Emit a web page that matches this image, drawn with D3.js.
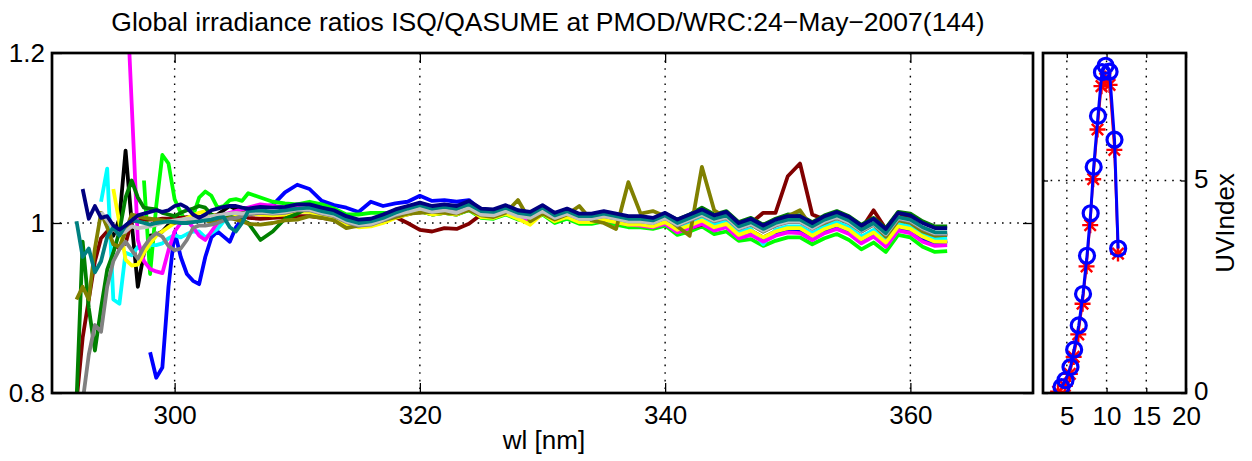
<!DOCTYPE html>
<html lang="en">
<head>
<meta charset="UTF-8">
<title>Global irradiance ratios ISQ/QASUME</title>
<script src="https://d3js.org/d3.v7.min.js"></script>
<style>
  body { margin: 0; background: #fff; }
  svg { display: block; font-family: "Liberation Sans", Arial, sans-serif; }
  .axis text { font-size: 26px; fill: #000; font-family: "Liberation Sans", Arial, sans-serif; }
  .axis line { stroke: #000; stroke-width: 1.3; }
  .grid { stroke: #000; stroke-width: 1.4; stroke-dasharray: 1.6 6; fill: none; }
  .frame { fill: none; stroke: #000; stroke-width: 2.7; }
</style>
</head>
<body>
<svg id="chart" width="1252" height="461"></svg>
<script>
// wavelength grid [nm]
const wl = [292, 292.5, 293, 293.5, 294, 294.5, 295, 295.5, 296, 296.5, 297, 297.5, 298, 298.5,
  299, 299.5, 300, 300.5, 301, 301.5, 302, 302.5, 303, 303.5, 304, 304.5, 305, 305.5, 306,
  307, 308, 309, 310, 311, 312, 313, 314, 315, 316, 317, 318, 319, 320, 321, 322, 323, 324,
  325, 326, 327, 328, 329, 330, 331, 332, 333, 334, 335, 336, 337, 338, 339, 340, 341, 342,
  343, 344, 345, 346, 347, 348, 349, 350, 351, 352, 353, 354, 355, 356, 357, 358, 359, 360,
  361, 362, 363];

// ISQ/QASUME ratio, one array per scan (null = no data)
const ratioBlue = [null, null, null, null, null, null, null, null, null, null, null, null,
  0.848, 0.818, 0.83, 0.925, 0.99, 0.96, 0.94, 0.932, 0.928, 0.96, 0.983, 0.99, 0.984, 0.978, 0.995, 1.005, 1.015,
  1.019, 1.021, 1.036, 1.045, 1.04, 1.026, 1.021, 1.018, 1.013, 1.025, 1.02, 1.023,
  1.025, 1.032, 1.026, 1.027, 1.025, 1.027, 1.015, 1.013, 1.017, 1.011, 1.009, 1.016,
  1.007, 1.012, 1.006, 1.006, 1.008, 1.005, 1.002, 1.001, 0.999, 1.004, 0.994, 0.999,
  1.003, 0.995, 0.998, 0.985, 0.989, 0.981, 0.988, 0.992, 0.991, 0.983, 0.991, 0.996,
  0.99, 0.977, 0.987, 0.975, 0.994, 0.991, 0.981, 0.977, 0.976];
const ratioGreen = [null, null, null, null, null, null, null, null, null, null, null,
  1.05, 0.94, 1.02, 1.08, 1.07, 1.028, 1.012, 1.0, 1.008, 1.03, 1.037, 1.032, 1.018, 1.02, 1.027, 1.028, 1.026, 1.035,
  1.03, 1.025, 1.023, 1.022, 1.025, 1.022, 1.017, 1.01, 1.01, 1.012, 1.012, 1.011,
  1.012, 1.014, 1.01, 1.012, 1.01, 1.015, 1.006, 1.005, 1.01, 1.004, 1.002, 1.01,
  1.0, 1.005, 0.999, 0.999, 1.002, 0.998, 0.995, 0.995, 0.993, 0.997, 0.986, 0.99,
  0.996, 0.987, 0.99, 0.979, 0.981, 0.973, 0.979, 0.983, 0.983, 0.975, 0.982, 0.987,
  0.98, 0.969, 0.977, 0.966, 0.986, 0.983, 0.972, 0.966, 0.967];
const ratioMaroon = [0.79, 0.865, 0.91, 0.955, 0.982, 0.99, 0.975, 0.97, 0.976, 1.002, 1.003, 1.004, 1.004, 1.004,
  1.005, 1.005, 1.006, 1.006, 1.007, 1.007, 1.006, 1.007, 1.008, 1.009, 1.009, 1.01, 1.01, 1.01, 1.006,
  1.005, 1.006, 1.007, 1.008, 1.008, 1.006, 1.004, 0.999, 0.997, 0.999, 1.003, 1.007,
  1.0, 0.992, 0.99, 0.994, 0.993, 0.999, 1.01, 1.008, 1.012, 1.007, 1.005, 1.012,
  1.004, 1.008, 1.003, 1.003, 1.005, 1.003, 1.0, 1.0, 0.998, 1.003, 0.995, 0.994,
  0.998, 1.004, 1.007, 0.996, 1.0, 1.012, 1.012, 1.055, 1.07, 1.01, 1.004, 1.008,
  1.002, 0.993, 1.015, 0.993, 1.012, 1.005, 0.993, 0.987, 0.985];
const ratioCyan = [null, null, null, null,
  1.025, 1.064, 0.91, 0.905, 0.965, 0.962, 0.972, 0.966, 0.974, 0.974, 0.976, 0.982, 0.986, 0.983,
  0.987, 0.99, 0.99, 0.983, 0.988, 0.993, 1.002, 1.006, 1.008, 1.01, 1.012,
  1.011, 1.01, 1.011, 1.014, 1.014, 1.01, 1.007, 1.0, 0.996, 0.997, 1.002, 1.008,
  1.012, 1.016, 1.012, 1.014, 1.012, 1.018, 1.009, 1.008, 1.013, 1.007, 1.005, 1.013,
  1.004, 1.009, 1.003, 1.003, 1.006, 1.003, 1.0, 1.0, 0.998, 1.003, 0.994, 1.0,
  1.005, 0.998, 1.002, 0.989, 0.993, 0.975, 0.992, 0.996, 0.996, 0.988, 0.996, 1.001,
  0.995, 0.984, 0.992, 0.98, 0.999, 0.996, 0.987, 0.981, 0.982];
const ratioMagenta = [null, null, null, null, null, null, null, null,
  1.3, 1.14, 0.98, 0.955, 0.946, 0.943, 0.941, 0.968, 0.99, 1.0, 1.003, 0.995, 0.985,
  0.98, 0.99, 1.0, 1.01, 1.012, 1.014, 1.016, 1.018,
  1.022, 1.02, 1.018, 1.018, 1.016, 1.012, 1.009, 1.002, 0.998, 0.999, 1.003, 1.009,
  1.012, 1.016, 1.011, 1.013, 1.011, 1.017, 1.008, 1.007, 1.012, 1.006, 1.004, 1.012,
  1.003, 1.008, 1.002, 1.002, 1.004, 1.001, 0.998, 0.997, 0.995, 0.999, 0.989, 0.994,
  0.999, 0.991, 0.995, 0.982, 0.986, 0.978, 0.985, 0.989, 0.988, 0.98, 0.988, 0.993,
  0.987, 0.976, 0.984, 0.972, 0.991, 0.988, 0.978, 0.973, 0.974];
const ratioYellow = [null, null, null, null, null, null,
  1.04, 1.0, 0.957, 0.95, 0.951, 0.965, 0.976, 0.985, 0.99, 0.995, 1.0, 1.003, 1.006, 1.009,
  1.012, 1.014, 1.01, 1.008, 1.008, 1.01, 1.01, 1.011, 1.011,
  1.01, 1.009, 1.01, 1.013, 1.013, 1.009, 1.006, 0.999, 0.995, 0.996, 1.0, 1.006,
  1.01, 1.014, 1.01, 1.012, 1.01, 1.016, 1.007, 1.006, 1.011, 1.005, 0.998, 1.011,
  1.002, 1.007, 1.001, 1.001, 1.004, 1.001, 0.998, 0.998, 0.996, 1.001, 0.992, 0.997,
  1.003, 0.995, 0.999, 0.986, 0.991, 0.983, 0.99, 0.994, 0.994, 0.985, 0.993, 0.998,
  0.992, 0.981, 0.989, 0.977, 0.996, 0.993, 0.984, 0.978, 0.978];
const ratioBlack = [null, null, null, null, null,
  0.99, 0.985, 1.005, 1.085, 1.0, 0.925, 0.965, 0.985, 0.986, 0.99, 0.998, 1.003, 1.005,
  1.006, 1.007, 1.007, 1.008, 1.008, 1.01, 1.015, 1.02, 1.016, 1.014, 1.013,
  1.011, 1.01, 1.011, 1.014, 1.014, 1.01, 1.007, 1.0, 0.996, 0.997, 1.001, 1.007,
  1.01, 1.014, 1.01, 1.012, 1.01, 1.016, 1.007, 1.006, 1.011, 1.005, 1.002, 1.011,
  1.002, 1.007, 1.001, 1.001, 1.004, 1.001, 0.998, 0.998, 0.996, 1.001, 0.992, 0.997,
  1.003, 0.995, 0.999, 0.986, 0.991, 0.983, 0.99, 0.994, 0.994, 0.985, 0.993, 0.998,
  0.992, 0.981, 0.989, 0.977, 0.996, 0.993, 0.984, 0.978, 0.979];
const ratioDarkGreen = [0.79, 0.978, 0.9, 0.85, 0.9, 0.945, 0.965, 0.99, 1.03, 1.05, 1.03, 1.018, 1.017, 1.016,
  1.012, 1.01, 1.008, 1.012, 1.015, 1.017, 1.02, 1.018, 1.01, 1.006, 1.01, 1.008, 1.005, 1.003, 1.0,
  0.98, 0.99, 1.005, 1.011, 1.019, 1.016, 1.013, 1.006, 1.002, 1.004, 1.009, 1.015,
  1.019, 1.023, 1.019, 1.021, 1.019, 1.025, 1.016, 1.015, 1.02, 1.014, 1.012, 1.02,
  1.011, 1.016, 1.01, 1.01, 1.013, 1.01, 1.007, 1.007, 1.005, 1.011, 1.004, 1.01,
  1.018, 1.01, 1.014, 1.001, 1.006, 0.998, 1.005, 1.01, 1.009, 1.001, 1.009, 1.014,
  1.008, 0.998, 1.006, 0.994, 1.013, 1.011, 1.002, 0.996, 0.996];
const ratioOlive = [0.91, 0.925, 0.91, 0.97, 1.012, 0.995, 0.975, 0.972, 0.99, 1.01, 1.008, 1.006, 1.005, 1.004,
  1.003, 1.002, 1.0, 1.003, 1.004, 1.003, 1.003, 1.004, 1.0, 1.002, 1.004, 1.006, 1.004, 1.002, 0.999,
  0.998, 1.0, 1.003, 1.004, 1.008, 1.006, 1.003, 0.994, 0.997, 1.0, 1.003, 1.007,
  1.011, 1.012, 1.013, 1.012, 1.011, 1.015, 1.009, 1.007, 1.012, 1.027, 1.002, 1.011,
  1.004, 1.01, 1.02, 1.003, 1.0, 0.993, 1.048, 1.011, 1.014, 1.008, 0.996, 0.985,
  1.066, 1.015, 1.006, 0.995, 0.998, 0.99, 0.997, 1.008, 1.015, 0.994, 1.0, 1.006,
  1.0, 0.99, 0.998, 0.984, 1.003, 1.0, 0.99, 0.985, 0.986];
const ratioGray = [null, 0.79, 0.845, 0.88, 0.872, 0.925, 0.955, 0.969, 0.978, 0.968, 0.958, 0.972, 0.982, 0.988,
  0.984, 0.973, 0.968, 0.97, 0.98, 0.994, 0.997, 0.997, 0.998, 1.0, 1.003, 1.005, 1.006, 1.008, 1.01,
  1.012, 1.011, 1.012, 1.015, 1.015, 1.011, 1.008, 1.001, 0.997, 0.998, 1.003, 1.009,
  1.014, 1.018, 1.014, 1.016, 1.014, 1.02, 1.011, 1.01, 1.015, 1.009, 1.007, 1.015,
  1.006, 1.011, 1.005, 1.005, 1.008, 1.005, 1.002, 1.002, 1.0, 1.006, 0.997, 1.003,
  1.009, 1.002, 1.006, 0.993, 0.998, 0.99, 0.997, 1.001, 1.001, 0.993, 1.001, 1.006,
  1.0, 0.99, 0.998, 0.986, 1.005, 1.002, 0.993, 0.987, 0.987];
const ratioSilver = [null, null, null, null,
  1.013, 1.003, 0.993, 0.987, 0.99, 0.996, 0.994, 0.995, 0.996, 0.998, 1.0, 1.002, 1.003, 1.004,
  1.005, 1.005, 1.004, 1.006, 1.008, 1.009, 1.01, 1.011, 1.012, 1.011, 1.012,
  1.013, 1.012, 1.013, 1.016, 1.016, 1.012, 1.009, 1.002, 0.998, 0.999, 1.004, 1.01,
  1.013, 1.017, 1.013, 1.015, 1.012, 1.018, 1.01, 1.009, 1.014, 1.008, 1.006, 1.014,
  1.006, 1.011, 1.005, 1.005, 1.008, 1.005, 1.002, 1.002, 1.0, 1.006, 0.998, 1.004,
  1.01, 1.003, 1.007, 0.994, 0.999, 0.991, 0.998, 1.002, 1.002, 0.994, 1.002, 1.007,
  1.001, 0.991, 0.999, 0.987, 1.006, 1.003, 0.994, 0.988, 0.988];
const ratioTeal = [1.002, 0.96, 0.97, 0.942, 0.955, 0.984, 0.995, 0.985, 0.997, 1.003, 1.002, 1.0, 0.998, 1.0,
  1.001, 1.002, 1.001, 1.0, 1.0, 1.001, 1.002, 1.003, 1.004, 1.006, 1.007, 0.995, 0.99, 1.0, 1.014,
  1.015, 1.013, 1.015, 1.017, 1.018, 1.014, 1.011, 1.004, 1.0, 1.002, 1.006, 1.012,
  1.017, 1.021, 1.017, 1.019, 1.017, 1.022, 1.014, 1.013, 1.018, 1.012, 1.01, 1.018,
  1.009, 1.014, 1.008, 1.008, 1.011, 1.008, 1.005, 1.005, 1.003, 1.009, 1.0, 1.006,
  1.012, 1.005, 1.009, 0.996, 1.001, 0.993, 1.0, 1.004, 1.004, 0.996, 1.004, 1.009,
  1.003, 0.992, 1.0, 0.988, 1.007, 1.004, 0.995, 0.989, 0.989];
const ratioNavy = [null, 1.04, 1.005, 1.02, 1.006, 1.008, 0.997, 0.992, 0.997, 1.003, 1.009, 1.011, 1.013, 1.015,
  1.013, 1.015, 1.02, 1.022, 1.018, 1.01, 1.006, 1.01, 1.015, 1.017, 1.019, 1.02, 1.02, 1.018, 1.017,
  1.019, 1.018, 1.019, 1.022, 1.022, 1.018, 1.015, 1.008, 1.004, 1.005, 1.01, 1.016,
  1.02, 1.024, 1.02, 1.022, 1.02, 1.026, 1.017, 1.016, 1.021, 1.015, 1.013, 1.021,
  1.012, 1.017, 1.011, 1.011, 1.014, 1.011, 1.008, 1.008, 1.006, 1.012, 1.004, 1.01,
  1.016, 1.009, 1.013, 1.0, 1.005, 0.997, 1.004, 1.008, 1.008, 1.0, 1.008, 1.013,
  1.007, 0.997, 1.005, 0.993, 1.012, 1.009, 1.0, 0.994, 0.994];

// UV index panel
const uvHour = [4.33, 4.83, 5.46, 5.92, 6.5, 7.04, 7.54, 8.0, 8.38, 8.92, 9.42, 9.88, 10.38, 11.0, 11.46];
const uvHourRed = [3.9, 4.75, 5.38, 5.86, 6.44, 6.98, 7.48, 7.94, 8.32, 8.86, 9.36, 9.84, 10.38, 10.98, 11.44];
const uvIndexBlue = [0.14, 0.30, 0.61, 1.02, 1.59, 2.33, 3.23, 4.23, 5.32, 6.52, 7.55, 7.70, 7.56, 5.96, 3.40];
const uvIndexRed = [0.03, 0.17, 0.45, 0.85, 1.38, 2.1, 2.98, 3.95, 5.03, 6.2, 7.22, 7.4, 7.25, 5.72, 3.28];

// ticks
const xTicks = [300, 320, 340, 360];
const yTicks = [0.8, 1, 1.2];
const yTickLabels = ["0.8", "1", "1.2"];
const uvXTicks = [5, 10, 15, 20];
const uvYTicks = [0, 5];

const series = [
  { name: "black", color: "#000000", values: ratioBlack },
  { name: "blue", color: "#0000ff", values: ratioBlue },
  { name: "green", color: "#00ff00", values: ratioGreen },
  { name: "maroon", color: "#800000", values: ratioMaroon },
  { name: "cyan", color: "#00ffff", values: ratioCyan },
  { name: "magenta", color: "#ff00ff", values: ratioMagenta },
  { name: "yellow", color: "#ffff00", values: ratioYellow },
  { name: "darkgreen", color: "#008000", values: ratioDarkGreen },
  { name: "olive", color: "#808000", values: ratioOlive },
  { name: "gray", color: "#808080", values: ratioGray },
  { name: "silver", color: "#c0c0c0", values: ratioSilver },
  { name: "teal", color: "#008080", values: ratioTeal },
  { name: "navy", color: "#000080", values: ratioNavy }
];

const svg = d3.select("#chart");
const M = { left: 52, right: 1033, top: 53, bottom: 393 };
const S = { left: 1043, right: 1186, top: 53, bottom: 393 };

const x = d3.scaleLinear().domain([290, 370]).range([M.left, M.right]);
const y = d3.scaleLinear().domain([0.8, 1.2]).range([M.bottom, M.top]);
const ux = d3.scaleLinear().domain([2, 20]).range([S.left, S.right]);
const uy = d3.scaleLinear().domain([0, 8]).range([S.bottom, S.top]);

const defs = svg.append("defs");
defs.append("clipPath").attr("id", "clipMain").append("rect")
  .attr("x", M.left).attr("y", M.top).attr("width", M.right - M.left).attr("height", M.bottom - M.top);
defs.append("clipPath").attr("id", "clipSide").append("rect")
  .attr("x", S.left).attr("y", S.top).attr("width", S.right - S.left).attr("height", S.bottom - S.top);

// grid (under the data, like Layer=bottom)
const grid = svg.append("g");
grid.selectAll(".gx").data(xTicks).enter().append("line").attr("class", "grid")
  .attr("x1", d => x(d)).attr("x2", d => x(d)).attr("y1", M.top).attr("y2", M.bottom);
grid.append("line").attr("class", "grid")
  .attr("x1", M.left).attr("x2", M.right).attr("y1", y(1)).attr("y2", y(1));
grid.selectAll(".ux").data([5, 10, 15]).enter().append("line").attr("class", "grid")
  .attr("x1", d => ux(d)).attr("x2", d => ux(d)).attr("y1", S.top).attr("y2", S.bottom);
grid.append("line").attr("class", "grid")
  .attr("x1", S.left).attr("x2", S.right).attr("y1", uy(5)).attr("y2", uy(5));

// axes
function clean(g) { g.select(".domain").remove(); }
svg.append("g").attr("class", "axis").attr("transform", `translate(0,${M.bottom})`)
  .call(d3.axisBottom(x).tickValues(xTicks).tickSizeInner(-10).tickSizeOuter(0).tickPadding(13)).call(clean);
svg.append("g").attr("class", "axis").attr("transform", `translate(0,${M.top})`)
  .call(d3.axisTop(x).tickValues(xTicks).tickSizeInner(-10).tickSizeOuter(0).tickFormat("")).call(clean);
svg.append("g").attr("class", "axis").attr("transform", `translate(${M.left},0)`)
  .call(d3.axisLeft(y).tickValues(yTicks).tickSizeInner(-10).tickSizeOuter(0).tickPadding(7)
    .tickFormat((d, i) => yTickLabels[i])).call(clean);
svg.append("g").attr("class", "axis").attr("transform", `translate(${M.right},0)`)
  .call(d3.axisRight(y).tickValues(yTicks).tickSizeInner(-10).tickSizeOuter(0).tickFormat("")).call(clean);

svg.append("g").attr("class", "axis").attr("transform", `translate(0,${S.bottom})`)
  .call(d3.axisBottom(ux).tickValues(uvXTicks).tickSizeInner(-5).tickSizeOuter(0).tickPadding(14)).call(clean);
svg.append("g").attr("class", "axis").attr("transform", `translate(0,${S.top})`)
  .call(d3.axisTop(ux).tickValues(uvXTicks).tickSizeInner(-5).tickSizeOuter(0).tickFormat("")).call(clean);
svg.append("g").attr("class", "axis").attr("transform", `translate(${S.left},0)`)
  .call(d3.axisLeft(uy).tickValues(uvYTicks).tickSizeInner(-5).tickSizeOuter(0).tickFormat("")).call(clean);
svg.append("g").attr("class", "axis").attr("transform", `translate(${S.right},0)`)
  .call(d3.axisRight(uy).tickValues(uvYTicks).tickSizeInner(-5).tickSizeOuter(0).tickPadding(8)).call(clean)
  .selectAll("text").attr("dy", "0.26em");

// ratio lines
const line = d3.line()
  .defined(d => d[1] != null)
  .x(d => x(d[0]))
  .y(d => y(d[1]));

svg.append("g").attr("clip-path", "url(#clipMain)")
  .selectAll("path").data(series).enter().append("path")
  .attr("fill", "none")
  .attr("stroke", d => d.color)
  .attr("stroke-width", 3.8)
  .attr("stroke-linejoin", "round")
  .attr("d", d => line(wl.map((w, i) => [w, d.values[i]])));

// UV index panel
const side = svg.append("g").attr("clip-path", "url(#clipSide)");
const uvLine = d3.line().x(d => ux(d[0])).y(d => uy(d[1]));
const redPts = uvHourRed.map((h, i) => [h, uvIndexRed[i]]);
const bluePts = uvHour.map((h, i) => [h, uvIndexBlue[i]]);

side.append("path").attr("d", uvLine(redPts))
  .attr("fill", "none").attr("stroke", "#ff0000").attr("stroke-width", 2.2);
const star = "M-8,0L8,0M0,-8L0,8M-5.7,-5.7L5.7,5.7M-5.7,5.7L5.7,-5.7";
side.selectAll(".star").data(redPts).enter().append("path")
  .attr("transform", d => `translate(${ux(d[0])},${uy(d[1])})`)
  .attr("d", star).attr("stroke", "#ff0000").attr("stroke-width", 2.4).attr("fill", "none");

side.append("path").attr("d", uvLine(bluePts))
  .attr("fill", "none").attr("stroke", "#0000ff").attr("stroke-width", 3);
side.selectAll(".circ").data(bluePts).enter().append("circle")
  .attr("cx", d => ux(d[0])).attr("cy", d => uy(d[1])).attr("r", 7.5)
  .attr("fill", "none").attr("stroke", "#0000ff").attr("stroke-width", 3.2);

// frames
svg.append("rect").attr("class", "frame")
  .attr("x", M.left).attr("y", M.top).attr("width", M.right - M.left).attr("height", M.bottom - M.top);
svg.append("rect").attr("class", "frame")
  .attr("x", S.left).attr("y", S.top).attr("width", S.right - S.left).attr("height", S.bottom - S.top);

// labels
svg.append("text").attr("x", 548).attr("y", 31).attr("text-anchor", "middle")
  .attr("font-size", 26.5).text("Global irradiance ratios ISQ/QASUME at PMOD/WRC:24\u2212May\u22122007(144)");
svg.append("text").attr("x", 544).attr("y", 449).attr("text-anchor", "middle")
  .attr("font-size", 26).text("wl [nm]");
svg.append("text").attr("transform", "translate(1234,223) rotate(-90)").attr("text-anchor", "middle")
  .attr("font-size", 26).text("UVIndex");
</script>
</body>
</html>
